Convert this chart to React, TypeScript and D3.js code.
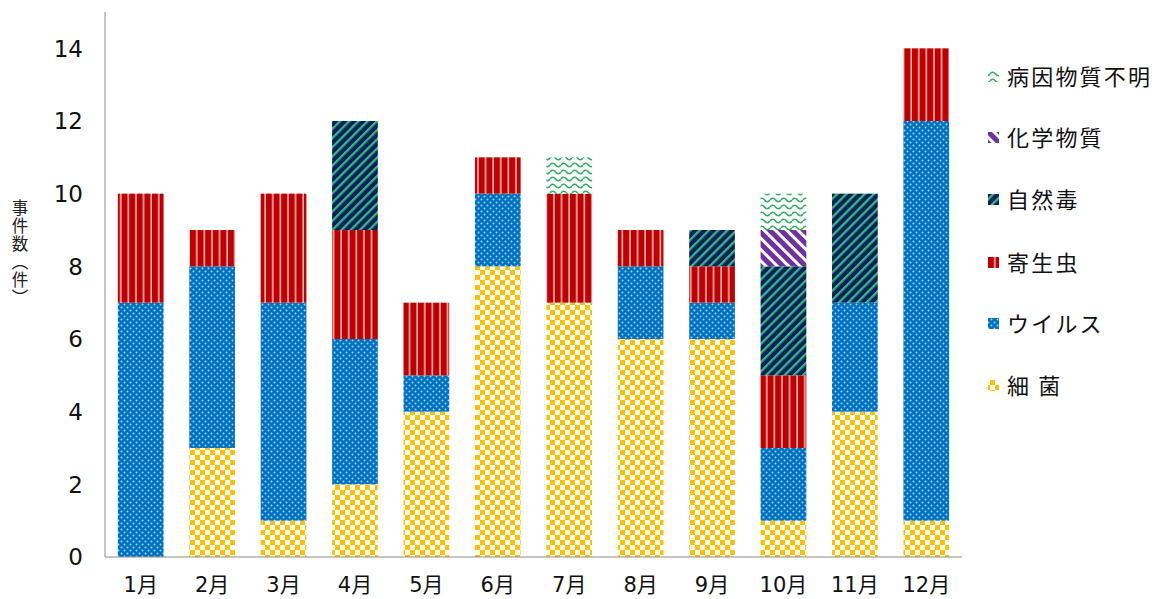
import React, { useEffect, useRef } from 'react';
import * as d3 from 'd3';

// Monthly food-poisoning incident counts by causative agent
const months = ['1月', '2月', '3月', '4月', '5月', '6月', '7月', '8月', '9月', '10月', '11月', '12月'];
const bacteria = [0, 3, 1, 2, 4, 8, 7, 6, 6, 1, 4, 1];
const virus = [7, 5, 6, 4, 1, 2, 0, 2, 1, 2, 3, 11];
const parasite = [3, 1, 3, 3, 2, 1, 3, 1, 1, 2, 0, 2];
const naturalToxin = [0, 0, 0, 3, 0, 0, 0, 0, 1, 3, 3, 0];
const chemical = [0, 0, 0, 0, 0, 0, 0, 0, 0, 1, 0, 0];
const unknown = [0, 0, 0, 0, 0, 0, 1, 0, 0, 1, 0, 0];

const seriesKeys = ['bacteria', 'virus', 'parasite', 'naturalToxin', 'chemical', 'unknown'];
const seriesNames = ['細 菌', 'ウイルス', '寄生虫', '自然毒', '化学物質', '病因物質不明'];
const yTicks = [0, 2, 4, 6, 8, 10, 12, 14];
const yTitle = '事件数（件）';

const W = 1162;
const H = 599;
const M = { left: 105, right: 200, top: 12, bottom: 42 };

const NUM_FONT = '"DejaVu Sans", "Noto Sans CJK JP", sans-serif';
const JP_FONT = '"Noto Sans CJK JP", "DejaVu Sans", sans-serif';

function definePatterns(defs: d3.Selection<SVGDefsElement, unknown, null, undefined>) {
  // 細菌: yellow checkerboard
  const pb = defs.append('pattern').attr('id', 'pat-bacteria').attr('patternUnits', 'userSpaceOnUse')
    .attr('width', 10).attr('height', 10);
  pb.append('rect').attr('width', 10).attr('height', 10).attr('fill', '#fff');
  pb.append('rect').attr('width', 5).attr('height', 5).attr('fill', '#FFC000');
  pb.append('rect').attr('x', 5).attr('y', 5).attr('width', 5).attr('height', 5).attr('fill', '#FFC000');

  // ウイルス: blue with light dots
  const pv = defs.append('pattern').attr('id', 'pat-virus').attr('patternUnits', 'userSpaceOnUse')
    .attr('width', 6).attr('height', 6);
  pv.append('rect').attr('width', 6).attr('height', 6).attr('fill', '#0070C0');
  pv.append('circle').attr('cx', 1.5).attr('cy', 1.5).attr('r', 1).attr('fill', '#9ad8ff');
  pv.append('circle').attr('cx', 4.5).attr('cy', 4.5).attr('r', 1).attr('fill', '#9ad8ff');

  // 寄生虫: vertical red stripes
  const pp = defs.append('pattern').attr('id', 'pat-parasite').attr('patternUnits', 'userSpaceOnUse')
    .attr('width', 7.6).attr('height', 10);
  pp.append('rect').attr('width', 7.6).attr('height', 10).attr('fill', '#f2b8b8');
  pp.append('rect').attr('x', 0).attr('width', 6).attr('height', 10).attr('fill', '#C00000');

  // 自然毒: navy with green diagonal stripes
  const pn = defs.append('pattern').attr('id', 'pat-naturalToxin').attr('patternUnits', 'userSpaceOnUse')
    .attr('width', 6.5).attr('height', 10).attr('patternTransform', 'rotate(45)');
  pn.append('rect').attr('width', 6.5).attr('height', 10).attr('fill', '#002060');
  pn.append('rect').attr('width', 2.3).attr('height', 10).attr('fill', '#3cb878');

  // 化学物質: purple with wide white diagonal stripes
  const pc = defs.append('pattern').attr('id', 'pat-chemical').attr('patternUnits', 'userSpaceOnUse')
    .attr('width', 8).attr('height', 10).attr('patternTransform', 'rotate(-45)');
  pc.append('rect').attr('width', 8).attr('height', 10).attr('fill', '#7030A0');
  pc.append('rect').attr('width', 3).attr('height', 10).attr('fill', '#ffffff');

  // 病因物質不明: green waves on white
  const pu = defs.append('pattern').attr('id', 'pat-unknown').attr('patternUnits', 'userSpaceOnUse')
    .attr('width', 11).attr('height', 7);
  pu.append('rect').attr('width', 11).attr('height', 7).attr('fill', '#fff');
  pu.append('path').attr('d', 'M0,4 Q2.75,0.5 5.5,4 T11,4')
    .attr('fill', 'none').attr('stroke', '#2fae64').attr('stroke-width', 1.7);
}

export default function App() {
  const ref = useRef<SVGSVGElement | null>(null);

  useEffect(() => {
    const svg = d3.select(ref.current as SVGSVGElement);
    svg.selectAll('*').remove();

    const defs = svg.append('defs');
    definePatterns(defs);

    const rows = months.map((m, i) => ({
      month: m,
      bacteria: bacteria[i],
      virus: virus[i],
      parasite: parasite[i],
      naturalToxin: naturalToxin[i],
      chemical: chemical[i],
      unknown: unknown[i],
    }));

    const x = d3.scaleBand<string>().domain(months).range([M.left, W - M.right]).paddingInner(0.36).paddingOuter(0.18);
    const y = d3.scaleLinear().domain([0, 15]).range([H - M.bottom, M.top]);

    const stacked = d3.stack<any>().keys(seriesKeys)(rows);

    const g = svg.append('g');
    stacked.forEach((layer) => {
      g.append('g')
        .selectAll('rect')
        .data(layer.filter((d) => d[1] - d[0] > 0))
        .join('rect')
        .attr('x', (d) => x(d.data.month) as number)
        .attr('width', x.bandwidth())
        .attr('y', (d) => y(d[1]))
        .attr('height', (d) => y(d[0]) - y(d[1]))
        .attr('fill', `url(#pat-${layer.key})`);
    });

    // Axis lines
    svg.append('line')
      .attr('x1', M.left).attr('x2', M.left)
      .attr('y1', y(15)).attr('y2', y(0))
      .attr('stroke', '#8c8c8c').attr('stroke-width', 1);
    svg.append('line')
      .attr('x1', M.left).attr('x2', W - M.right)
      .attr('y1', y(0)).attr('y2', y(0))
      .attr('stroke', '#8c8c8c').attr('stroke-width', 1);

    // Y tick labels
    svg.append('g').selectAll('text')
      .data(yTicks)
      .join('text')
      .attr('x', 83)
      .attr('y', (d) => y(d))
      .attr('dy', '0.36em')
      .attr('text-anchor', 'end')
      .attr('font-family', NUM_FONT)
      .attr('font-size', 23)
      .attr('fill', '#111')
      .text((d) => d);

    // X labels
    svg.append('g').selectAll('text')
      .data(months)
      .join('text')
      .attr('x', (d) => (x(d) as number) + x.bandwidth() / 2)
      .attr('y', 592)
      .attr('text-anchor', 'middle')
      .attr('font-family', NUM_FONT)
      .attr('font-size', 21)
      .attr('fill', '#111')
      .text((d) => d);

    // Y axis title in vertical writing
    svg.append('text')
      .attr('x', 20)
      .attr('y', 199)
      .attr('font-family', JP_FONT)
      .attr('font-size', 16.5)
      .attr('letter-spacing', 1.5)
      .attr('fill', '#222')
      .style('writing-mode', 'vertical-rl')
      .style('text-orientation', 'upright')
      .text(yTitle);

    // Legend, top entry is the last series
    const legendY = [77, 138, 200, 263, 324, 386];
    const order = seriesKeys.slice().reverse();
    const names = seriesNames.slice().reverse();
    const lg = svg.append('g');
    order.forEach((k, i) => {
      const cy = legendY[i];
      lg.append('rect')
        .attr('x', 988).attr('y', cy - 6)
        .attr('width', 11).attr('height', 11)
        .attr('fill', `url(#pat-${k})`);
      lg.append('text')
        .attr('x', 1007).attr('y', cy)
        .attr('dy', '0.36em')
        .attr('font-family', JP_FONT)
        .attr('font-size', 22)
        .attr('letter-spacing', 2.2)
        .attr('fill', '#111')
        .text(names[i]);
    });
  }, []);

  return (
    <svg
      ref={ref}
      width={W}
      height={H}
      style={{ position: 'absolute', left: 0, top: 0, background: '#fff' }}
    />
  );
}
